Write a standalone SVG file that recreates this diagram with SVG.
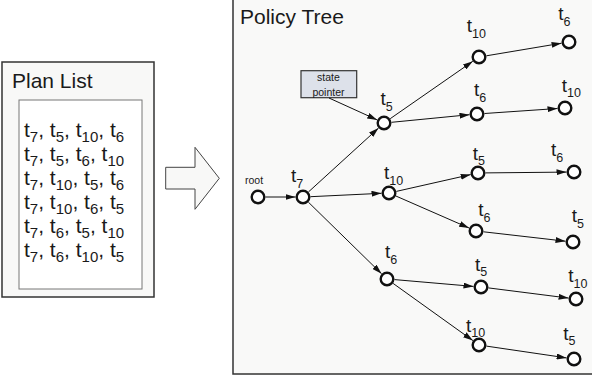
<svg xmlns="http://www.w3.org/2000/svg" width="592" height="378" viewBox="0 0 592 378">
<defs>
<style>
text{font-family:"Liberation Sans",Arial,sans-serif;fill:#1a1a1a}
.title{font-size:21px}
.pl{font-size:21px}
.pl .s{font-size:15px}
.lbl{font-size:19px}
.lbl .s{font-size:12.5px}
.node circle{fill:#fff;stroke:#111;stroke-width:2.4}
.edges line{stroke:#111;stroke-width:1;marker-end:url(#ah)}
</style>
<marker id="ah" viewBox="0 0 10 6" refX="10" refY="3" markerWidth="10" markerHeight="6" markerUnits="userSpaceOnUse" orient="auto">
<path d="M0,0 L10,3 L0,6 z" fill="#111"/>
</marker>
</defs>
<rect x="0" y="0" width="592" height="378" fill="#fff"/>

<g id="plan-list">
<rect x="2" y="62" width="152" height="235" fill="#f8f8f7" stroke="#333" stroke-width="1.5"/>
<text class="title" x="12" y="88">Plan List</text>
<rect x="19" y="100" width="123" height="189" fill="#fff" stroke="#777" stroke-width="1"/>
<text class="pl" x="24" y="137">t<tspan class="s" dy="5">7</tspan><tspan dy="-5">, t</tspan><tspan class="s" dy="5">5</tspan><tspan dy="-5">, t</tspan><tspan class="s" dy="5">10</tspan><tspan dy="-5">, t</tspan><tspan class="s" dy="5">6</tspan></text>
<text class="pl" x="24" y="161">t<tspan class="s" dy="5">7</tspan><tspan dy="-5">, t</tspan><tspan class="s" dy="5">5</tspan><tspan dy="-5">, t</tspan><tspan class="s" dy="5">6</tspan><tspan dy="-5">, t</tspan><tspan class="s" dy="5">10</tspan></text>
<text class="pl" x="24" y="185">t<tspan class="s" dy="5">7</tspan><tspan dy="-5">, t</tspan><tspan class="s" dy="5">10</tspan><tspan dy="-5">, t</tspan><tspan class="s" dy="5">5</tspan><tspan dy="-5">, t</tspan><tspan class="s" dy="5">6</tspan></text>
<text class="pl" x="24" y="209">t<tspan class="s" dy="5">7</tspan><tspan dy="-5">, t</tspan><tspan class="s" dy="5">10</tspan><tspan dy="-5">, t</tspan><tspan class="s" dy="5">6</tspan><tspan dy="-5">, t</tspan><tspan class="s" dy="5">5</tspan></text>
<text class="pl" x="24" y="233">t<tspan class="s" dy="5">7</tspan><tspan dy="-5">, t</tspan><tspan class="s" dy="5">6</tspan><tspan dy="-5">, t</tspan><tspan class="s" dy="5">5</tspan><tspan dy="-5">, t</tspan><tspan class="s" dy="5">10</tspan></text>
<text class="pl" x="24" y="257">t<tspan class="s" dy="5">7</tspan><tspan dy="-5">, t</tspan><tspan class="s" dy="5">6</tspan><tspan dy="-5">, t</tspan><tspan class="s" dy="5">10</tspan><tspan dy="-5">, t</tspan><tspan class="s" dy="5">5</tspan></text>
</g>

<g id="transform-arrow">
<polygon points="165.7,167.3 195,167.3 195,147.3 219.3,178.3 195,209.3 195,189 165.7,189" fill="#f8f8f7" stroke="#444" stroke-width="1"/>
</g>

<g id="policy-tree">
<rect x="233" y="-2" width="362" height="376" fill="#f9f9f8" stroke="#333" stroke-width="1.5"/>
<text class="title" x="240" y="24">Policy Tree</text>
</g>

<g id="state-pointer">
<rect x="301" y="70.7" width="55.7" height="27" fill="#dde1ea" stroke="#333" stroke-width="1.2"/>
<text x="328.5" y="81" font-size="10.5" text-anchor="middle">state</text>
<text x="328.5" y="95.5" font-size="10.5" text-anchor="middle">pointer</text>
</g>

<g class="edges" id="connectors">
<line x1="329" y1="98" x2="377.2" y2="119.9"/>
<line x1="265.5" y1="197" x2="295.5" y2="197"/>
<line x1="308.5" y1="191.9" x2="378.5" y2="128.1"/>
<line x1="310.5" y1="196.7" x2="381.5" y2="193.3"/>
<line x1="308.4" y1="202.2" x2="381.6" y2="273.8"/>
<line x1="390.2" y1="118.7" x2="472.8" y2="61.3"/>
<line x1="391.5" y1="122.3" x2="469.5" y2="114.7"/>
<line x1="396.3" y1="191.4" x2="470.7" y2="174.6"/>
<line x1="395.9" y1="196" x2="469.1" y2="228"/>
<line x1="394.5" y1="279.6" x2="473.5" y2="286.4"/>
<line x1="393.1" y1="283.4" x2="472.9" y2="340.6"/>
<line x1="486.4" y1="55.8" x2="561.6" y2="43.2"/>
<line x1="484.5" y1="113.5" x2="557.5" y2="108.5"/>
<line x1="485.5" y1="172.9" x2="566.5" y2="172.1"/>
<line x1="483.5" y1="231.8" x2="565.5" y2="241.2"/>
<line x1="488.4" y1="287.9" x2="568.6" y2="298.1"/>
<line x1="486.4" y1="346.1" x2="566.6" y2="357.9"/>
</g>

<g id="n-root" class="node"><circle cx="258" cy="197" r="6.3"/><text x="245" y="184" font-size="10.5">root</text></g>
<g id="n-t7" class="node"><circle cx="303" cy="197" r="6.3"/><text class="lbl" x="291" y="182">t<tspan class="s" dy="5.5">7</tspan></text></g>
<g id="n-t5a" class="node"><circle cx="384" cy="123" r="6.3"/><text class="lbl" x="380.5" y="105">t<tspan class="s" dy="5.5">5</tspan></text></g>
<g id="n-t10a" class="node"><circle cx="389" cy="193" r="6.3"/><text class="lbl" x="384" y="179">t<tspan class="s" dy="5.5">10</tspan></text></g>
<g id="n-t6a" class="node"><circle cx="387" cy="279" r="6.3"/><text class="lbl" x="385" y="258">t<tspan class="s" dy="5.5">6</tspan></text></g>
<g id="n-t10b" class="node"><circle cx="479" cy="57" r="6.3"/><text class="lbl" x="466.7" y="32">t<tspan class="s" dy="5.5">10</tspan></text></g>
<g id="n-t6b" class="node"><circle cx="477" cy="114" r="6.3"/><text class="lbl" x="474" y="96">t<tspan class="s" dy="5.5">6</tspan></text></g>
<g id="n-t5b" class="node"><circle cx="478" cy="173" r="6.3"/><text class="lbl" x="472.7" y="159.5">t<tspan class="s" dy="5.5">5</tspan></text></g>
<g id="n-t6c" class="node"><circle cx="476" cy="231" r="6.3"/><text class="lbl" x="478.3" y="216">t<tspan class="s" dy="5.5">6</tspan></text></g>
<g id="n-t5c" class="node"><circle cx="481" cy="287" r="6.3"/><text class="lbl" x="475" y="270.5">t<tspan class="s" dy="5.5">5</tspan></text></g>
<g id="n-t10c" class="node"><circle cx="479" cy="345" r="6.3"/><text class="lbl" x="466" y="331.5">t<tspan class="s" dy="5.5">10</tspan></text></g>
<g id="n-t6d" class="node"><circle cx="569" cy="42" r="6.3"/><text class="lbl" x="558.3" y="20">t<tspan class="s" dy="5.5">6</tspan></text></g>
<g id="n-t10d" class="node"><circle cx="565" cy="108" r="6.3"/><text class="lbl" x="561.7" y="91.5">t<tspan class="s" dy="5.5">10</tspan></text></g>
<g id="n-t6e" class="node"><circle cx="574" cy="172" r="6.3"/><text class="lbl" x="551" y="156">t<tspan class="s" dy="5.5">6</tspan></text></g>
<g id="n-t5d" class="node"><circle cx="573" cy="242" r="6.3"/><text class="lbl" x="571.7" y="222">t<tspan class="s" dy="5.5">5</tspan></text></g>
<g id="n-t10e" class="node"><circle cx="576" cy="299" r="6.3"/><text class="lbl" x="568.3" y="282">t<tspan class="s" dy="5.5">10</tspan></text></g>
<g id="n-t5e" class="node"><circle cx="574" cy="359" r="6.3"/><text class="lbl" x="563.3" y="339.5">t<tspan class="s" dy="5.5">5</tspan></text></g>
</svg>
